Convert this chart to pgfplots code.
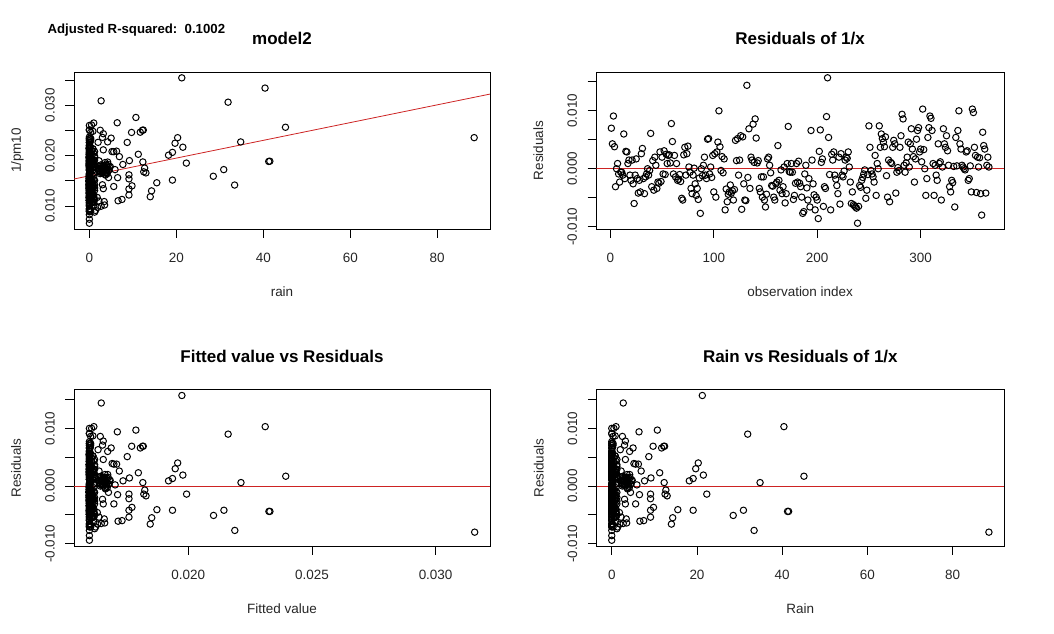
\documentclass[border=0pt]{standalone}
\usepackage{fontspec}
\setmainfont{Liberation Sans}
\usepackage{pgfplots}
\usepackage{pgfplotstable}
\pgfplotsset{compat=1.18}
\definecolor{rline}{RGB}{205,35,35}

% idx = observation index, rain, fit = fitted 1/pm10, res = residual, inv = 1/pm10
\pgfplotstableread{
idx rain fit res inv
1 0 0.01600 0.0070 0.02300
2 0.5 0.01609 0.0043 0.02039
3 0 0.01600 0.0091 0.02510
4 5.6 0.01699 0.0038 0.02079
5 5.6 0.01699 -0.0031 0.01389
6 0 0.01600 0.0000 0.01600
7 0.3 0.01605 0.0009 0.01695
8 0 0.01600 -0.0009 0.01510
9 1.0 0.01618 -0.0023 0.01388
10 0 0.01600 -0.0006 0.01540
11 0 0.01600 -0.0006 0.01540
12 4.4 0.01677 -0.0011 0.01567
13 4.2 0.01674 0.0060 0.02274
14 0 0.01600 -0.0017 0.01430
15 19.7 0.01947 0.0030 0.02247
16 0.8 0.01614 0.0029 0.01904
17 7.7 0.01736 0.0009 0.01826
18 2.8 0.01649 0.0015 0.01799
19 0 0.01600 -0.0011 0.01490
20 0.2 0.01604 -0.0020 0.01404
21 3.3 0.01658 0.0015 0.01808
22 0 0.01600 -0.0026 0.01340
23 7.5 0.01732 -0.0060 0.01132
24 0 0.01600 -0.0011 0.01490
25 1.2 0.01621 0.0017 0.01791
26 0 0.01600 -0.0017 0.01430
27 9.1 0.01760 -0.0042 0.01340
28 0 0.01600 -0.0020 0.01400
29 0.5 0.01609 -0.0040 0.01209
30 6.9 0.01721 0.0026 0.01981
31 0 0.01600 0.0035 0.01950
32 0 0.01600 -0.0017 0.01430
33 0.3 0.01605 -0.0043 0.01175
34 0 0.01600 -0.0014 0.01460
35 1.0 0.01618 -0.0009 0.01528
36 2.5 0.01644 0.0000 0.01644
37 0 0.01600 -0.0011 0.01490
38 3.6 0.01663 -0.0003 0.01633
39 0 0.01600 0.0061 0.02210
40 0.8 0.01614 -0.0031 0.01304
41 9.2 0.01762 0.0014 0.01902
42 9.8 0.01772 -0.0037 0.01402
43 4.2 0.01674 0.0020 0.01874
44 12.3 0.01816 0.0006 0.01876
45 0 0.01600 -0.0034 0.01260
46 0.2 0.01604 -0.0023 0.01374
47 0 0.01600 -0.0025 0.01350
48 1.2 0.01621 0.0029 0.01911
49 9.1 0.01760 -0.0022 0.01540
50 0 0.01600 0.0020 0.01800
51 0 0.01600 -0.0009 0.01510
52 0.5 0.01609 0.0031 0.01919
53 0 0.01600 -0.0010 0.01500
54 0 0.01600 0.0025 0.01850
55 3.0 0.01653 0.0009 0.01743
56 11.25 0.01798 0.0023 0.02028
57 0.3 0.01605 0.0024 0.01845
58 4.8 0.01684 0.0010 0.01784
59 3.2 0.01656 0.0078 0.02436
60 0 0.01600 0.0047 0.02070
61 0 0.01600 -0.0009 0.01510
62 1.0 0.01618 0.0023 0.01848
63 12.5 0.01820 -0.0014 0.01680
64 2.4 0.01642 0.0009 0.01732
65 0 0.01600 -0.0020 0.01400
66 0.8 0.01614 -0.0018 0.01434
67 0 0.01600 -0.0010 0.01500
68 0 0.01600 -0.0022 0.01380
69 0.2 0.01604 -0.0051 0.01094
70 9.1 0.01760 -0.0054 0.01220
71 0 0.01600 0.0024 0.01840
72 0 0.01600 0.0037 0.01970
73 1.2 0.01621 -0.0011 0.01511
74 0 0.01600 0.0026 0.01860
75 5.2 0.01692 0.0039 0.02082
76 3.8 0.01667 0.0003 0.01697
77 0 0.01600 -0.0006 0.01540
78 0.5 0.01609 -0.0034 0.01269
79 0 0.01600 -0.0043 0.01170
80 0 0.01600 -0.0011 0.01490
81 2.9 0.01651 0.0001 0.01661
82 0 0.01600 -0.0026 0.01340
83 0.3 0.01605 -0.0046 0.01145
84 0 0.01600 -0.0034 0.01260
85 1.0 0.01618 -0.0053 0.01088
86 0 0.01600 -0.0016 0.01440
87 33.4 0.02188 -0.0077 0.01418
88 4.0 0.01670 0.0000 0.01670
89 0 0.01600 -0.0012 0.01480
90 3.3 0.01658 0.0006 0.01718
91 3.6 0.01663 0.0020 0.01863
92 0 0.01600 -0.0011 0.01490
93 13.0 0.01829 -0.0017 0.01659
94 0 0.01600 0.0051 0.02110
95 0.8 0.01614 0.0052 0.02134
96 0 0.01600 -0.0009 0.01510
97 2.6 0.01646 0.0003 0.01676
98 6.5 0.01714 -0.0015 0.01564
99 0 0.01600 0.0023 0.01830
100 0.2 0.01604 -0.0040 0.01204
101 2.2 0.01639 0.0026 0.01899
102 0 0.01600 -0.0049 0.01110
103 0 0.01600 0.0029 0.01890
104 1.2 0.01621 0.0046 0.02081
105 0 0.01600 0.0100 0.02600
106 0 0.01600 0.0038 0.01980
107 4.1 0.01672 -0.0003 0.01642
108 0.5 0.01609 0.0021 0.01819
109 12.7 0.01824 -0.0007 0.01754
110 0 0.01600 0.0017 0.01770
111 1.4 0.01625 -0.0071 0.00915
112 0 0.01600 -0.0035 0.01250
113 3.4 0.01660 -0.0057 0.01090
114 41.5 0.02330 -0.0044 0.01890
115 0 0.01600 -0.0040 0.01200
116 0.3 0.01605 -0.0028 0.01325
117 19.1 0.01936 -0.0042 0.01516
118 0 0.01600 -0.0038 0.01220
119 1.0 0.01618 -0.0054 0.01078
120 0 0.01600 -0.0036 0.01240
121 0 0.01600 0.0049 0.02090
122 3.5 0.01662 0.0014 0.01802
123 0.8 0.01614 0.0052 0.02134
124 0 0.01600 -0.0011 0.01490
125 0 0.01600 0.0015 0.01750
126 0.2 0.01604 0.0057 0.02174
127 0 0.01600 -0.0070 0.00900
128 0 0.01600 0.0055 0.02150
129 1.2 0.01621 -0.0026 0.01361
130 0 0.01600 -0.0054 0.01060
131 14.3 0.01852 -0.0055 0.01302
132 2.7 0.01648 0.0144 0.03088
133 0 0.01600 -0.0015 0.01450
134 9.7 0.01771 0.0069 0.02461
135 0.5 0.01609 -0.0034 0.01269
136 0 0.01600 0.0020 0.01800
137 4.3 0.01676 0.0015 0.01826
138 0 0.01600 0.0077 0.02370
139 2.7 0.01648 0.0011 0.01758
140 2.5 0.01644 0.0086 0.02504
141 0 0.01600 0.0053 0.02130
142 0.3 0.01605 0.0010 0.01705
143 3.9 0.01669 0.0014 0.01809
144 0 0.01600 -0.0034 0.01260
145 1.0 0.01618 -0.0040 0.01218
146 9.1 0.01760 -0.0014 0.01620
147 0 0.01600 -0.0049 0.01110
148 0 0.01600 -0.0014 0.01460
149 0.8 0.01614 -0.0054 0.01074
150 0 0.01600 -0.0066 0.00940
151 41.25 0.02326 -0.0044 0.01886
152 45.1 0.02394 0.0017 0.02564
153 0 0.01600 0.0020 0.01800
154 34.8 0.02213 0.0006 0.02273
155 0.2 0.01604 -0.0007 0.01534
156 0 0.01600 -0.0029 0.01310
157 0 0.01600 -0.0030 0.01300
158 1.2 0.01621 -0.0049 0.01131
159 2.2 0.01639 -0.0054 0.01099
160 0 0.01600 -0.0026 0.01340
161 3.0 0.01653 -0.0023 0.01423
162 20.3 0.01957 0.0040 0.02357
163 0 0.01600 -0.0020 0.01400
164 0.5 0.01609 -0.0037 0.01239
165 0 0.01600 -0.0002 0.01580
166 0 0.01600 -0.0043 0.01170
167 3.2 0.01656 -0.0031 0.01346
168 3.1 0.01655 0.0003 0.01685
169 0 0.01600 -0.0059 0.01010
170 1.0 0.01618 -0.0043 0.01188
171 18.2 0.01920 0.0009 0.02010
172 0 0.01600 0.0073 0.02330
173 3.7 0.01665 -0.0005 0.01615
174 0.3 0.01605 -0.0006 0.01545
175 4.6 0.01681 0.0009 0.01771
176 0 0.01600 -0.0006 0.01540
177 0 0.01600 -0.0053 0.01070
178 1.8 0.01632 -0.0046 0.01172
179 0.8 0.01614 -0.0025 0.01364
180 3.4 0.01660 0.0009 0.01750
181 0 0.01600 -0.0023 0.01370
182 19.1 0.01936 0.0013 0.02066
183 0 0.01600 -0.0025 0.01350
184 0.2 0.01604 -0.0031 0.01294
185 0 0.01600 -0.0049 0.01110
186 0 0.01600 -0.0077 0.00830
187 1.2 0.01621 -0.0074 0.00881
188 0 0.01600 -0.0009 0.01510
189 2.2 0.01639 0.0006 0.01699
190 0 0.01600 -0.0033 0.01270
191 0.5 0.01609 -0.0054 0.01069
192 0 0.01600 -0.0017 0.01430
193 14.0 0.01846 -0.0066 0.01186
194 0 0.01600 0.0066 0.02260
195 1.0 0.01618 0.0015 0.01768
196 0 0.01600 -0.0026 0.01340
197 0 0.01600 -0.0045 0.01150
198 0.3 0.01605 -0.0071 0.00895
199 0 0.01600 -0.0049 0.01110
200 0.8 0.01614 -0.0054 0.01074
201 0 0.01600 -0.0086 0.00740
202 0 0.01600 0.0030 0.01900
203 0.2 0.01604 0.0067 0.02274
204 0 0.01600 0.0011 0.01710
205 2.6 0.01646 0.0017 0.01816
206 0 0.01600 -0.0065 0.00950
207 1.2 0.01621 -0.0031 0.01311
208 0 0.01600 -0.0034 0.01260
209 31.9 0.02161 0.0090 0.03061
210 21.25 0.01974 0.0157 0.03544
211 0 0.01600 0.0054 0.02140
212 0.5 0.01609 -0.0010 0.01509
213 0 0.01600 -0.0071 0.00890
214 0 0.01600 0.0025 0.01850
215 3.9 0.01669 0.0015 0.01819
216 1.0 0.01618 0.0029 0.01908
217 0 0.01600 -0.0011 0.01490
218 0 0.01600 -0.0018 0.01420
219 0.3 0.01605 -0.0029 0.01315
220 0 0.01600 -0.0043 0.01170
221 0.8 0.01614 0.0020 0.01814
222 6.6 0.01716 -0.0061 0.01106
223 0 0.01600 0.0026 0.01860
224 0 0.01600 -0.0011 0.01490
225 0.2 0.01604 -0.0014 0.01464
226 0 0.01600 -0.0004 0.01560
227 3.1 0.01655 0.0015 0.01805
228 1.2 0.01621 0.0020 0.01821
229 0 0.01600 0.0018 0.01780
230 0 0.01600 0.0029 0.01890
231 4.4 0.01677 0.0003 0.01707
232 0.5 0.01609 -0.0023 0.01379
233 0 0.01600 -0.0060 0.01000
234 0 0.01600 -0.0040 0.01200
235 1.0 0.01618 -0.0062 0.00998
236 3.5 0.01662 -0.0064 0.01022
237 1.9 0.01633 -0.0066 0.00973
238 0 0.01600 -0.0068 0.00920
239 0 0.01600 -0.0094 0.00660
240 2.7 0.01648 -0.0065 0.00998
241 0 0.01600 -0.0029 0.01310
242 0.3 0.01605 -0.0032 0.01285
243 0 0.01600 -0.0020 0.01400
244 0.8 0.01614 -0.0015 0.01464
245 0 0.01600 -0.0009 0.01510
246 0 0.01600 -0.0002 0.01580
247 28.5 0.02102 -0.0051 0.01592
248 0.2 0.01604 -0.0037 0.01234
249 0 0.01600 -0.0010 0.01500
250 0 0.01600 0.0074 0.02340
251 1.2 0.01621 0.0037 0.01991
252 0 0.01600 -0.0003 0.01570
253 0.5 0.01609 -0.0009 0.01519
254 22.3 0.01993 -0.0014 0.01853
255 0 0.01600 -0.0023 0.01370
256 0 0.01600 0.0023 0.01830
257 1.0 0.01618 -0.0046 0.01158
258 2.8 0.01649 0.0009 0.01739
259 0 0.01600 0.0000 0.01600
260 0.3 0.01605 0.0074 0.02345
261 0 0.01600 0.0037 0.01970
262 0 0.01600 0.0060 0.02200
263 0.8 0.01614 0.0052 0.02134
264 0 0.01600 0.0046 0.02060
265 6.25 0.01710 0.0038 0.02090
266 0 0.01600 0.0055 0.02150
267 0.2 0.01604 -0.0012 0.01484
268 0 0.01600 -0.0049 0.01110
269 1.2 0.01621 0.0015 0.01771
270 0 0.01600 -0.0057 0.01030
271 3.6 0.01663 0.0011 0.01773
272 3.4 0.01660 0.0009 0.01750
273 0 0.01600 0.0037 0.01970
274 0.5 0.01609 0.0049 0.02099
275 0 0.01600 0.0043 0.02030
276 30.9 0.02144 -0.0042 0.01724
277 0 0.01600 -0.0006 0.01540
278 5.9 0.01704 0.0002 0.01724
279 1.0 0.01618 -0.0003 0.01588
280 0 0.01600 0.0037 0.01970
281 0 0.01600 0.0057 0.02170
282 6.4 0.01713 0.0094 0.02653
283 0.3 0.01605 0.0086 0.02465
284 4.1 0.01672 0.0006 0.01732
285 0 0.01600 -0.0006 0.01540
286 0.8 0.01614 0.0010 0.01714
287 0 0.01600 0.0020 0.01800
288 3.2 0.01656 0.0046 0.02116
289 2.5 0.01644 0.0003 0.01674
290 0 0.01600 0.0043 0.02030
291 12.2 0.01815 0.0069 0.02505
292 0.2 0.01604 0.0034 0.01944
293 0 0.01600 0.0021 0.01810
294 0 0.01600 -0.0023 0.01370
295 1.2 0.01621 0.0017 0.01791
296 8.7 0.01753 0.0051 0.02263
297 11.7 0.01806 0.0066 0.02466
298 3.0 0.01653 0.0071 0.02363
299 0 0.01600 0.0029 0.01890
300 0.5 0.01609 0.0034 0.01949
301 0 0.01600 0.0012 0.01720
302 40.4 0.02311 0.0103 0.03341
303 0 0.01600 0.0033 0.01930
304 3.2 0.01656 0.0000 0.01656
305 1.0 0.01618 -0.0046 0.01158
306 0 0.01600 -0.0017 0.01430
307 0 0.01600 0.0054 0.02140
308 0.3 0.01605 0.0071 0.02315
309 0 0.01600 0.0091 0.02510
310 0.8 0.01614 0.0087 0.02484
311 5.0 0.01688 0.0066 0.02348
312 2.9 0.01651 0.0009 0.01741
313 0 0.01600 -0.0046 0.01140
314 0.2 0.01604 0.0006 0.01664
315 0 0.01600 -0.0011 0.01490
316 1.2 0.01621 -0.0020 0.01421
317 0 0.01600 0.0043 0.02030
318 3.7 0.01665 0.0009 0.01755
319 0 0.01600 0.0012 0.01720
320 0.5 0.01609 -0.0054 0.01069
321 0 0.01600 0.0003 0.01630
322 12.4 0.01818 0.0069 0.02508
323 1.0 0.01618 0.0043 0.02048
324 0 0.01600 0.0037 0.01970
325 0 0.01600 0.0057 0.02170
326 0.3 0.01605 0.0031 0.01915
327 4.0 0.01670 0.0006 0.01730
328 0 0.01600 -0.0031 0.01290
329 0.8 0.01614 -0.0040 0.01214
330 0 0.01600 -0.0020 0.01400
331 0 0.01600 -0.0024 0.01360
332 4.5 0.01679 0.0004 0.01719
333 0.2 0.01604 -0.0066 0.00944
334 0 0.01600 0.0054 0.02140
335 1.2 0.01621 0.0005 0.01671
336 0 0.01600 0.0066 0.02260
337 0.5 0.01609 0.0100 0.02609
338 0 0.01600 0.0043 0.02030
339 0 0.01600 0.0034 0.01940
340 2.4 0.01642 0.0006 0.01702
341 1.0 0.01618 0.0003 0.01648
342 0 0.01600 0.0000 0.01600
343 0 0.01600 -0.0002 0.01580
344 0.3 0.01605 0.0029 0.01895
345 0 0.01600 0.0031 0.01910
346 0.8 0.01614 -0.0020 0.01414
347 0 0.01600 -0.0017 0.01430
348 0 0.01600 0.0005 0.01650
349 0.2 0.01604 -0.0040 0.01204
350 1.0 0.01618 0.0103 0.02648
351 10.7 0.01788 0.0097 0.02758
352 0 0.01600 0.0037 0.01970
353 0 0.01600 0.0023 0.01830
354 15.5 0.01873 -0.0041 0.01463
355 0.5 0.01609 0.0020 0.01809
356 3.0 0.01653 0.0003 0.01683
357 21.5 0.01978 0.0019 0.02168
358 0 0.01600 -0.0043 0.01170
359 88.5 0.03158 -0.0080 0.02358
360 2.0 0.01635 0.0063 0.02265
361 0 0.01600 0.0040 0.02000
362 1.2 0.01621 0.0034 0.01961
363 0 0.01600 -0.0042 0.01180
364 3.5 0.01662 0.0006 0.01722
365 0.3 0.01605 0.0020 0.01805
366 0 0.01600 0.0003 0.01630
}\obs

\pgfplotsset{
  rpanel/.style={
    scale only axis,
    anchor=south west,
    axis line style={line width=0.6pt, black},
    tick align=outside,
    xtick pos=left, ytick pos=left,
    major tick length=6.5pt,
    tick style={line width=0.6pt, black},
    minor tick num=0,
    scaled ticks=false,
    every tick label/.append style={font=\fontsize{10.1}{12}\selectfont, text=black!85},
    xticklabel style={anchor=base, yshift=-18.85pt},
    yticklabel style={xshift=-8.1pt, rotate=90, anchor=base},
    every axis title/.style={at={(axis description cs:0.5,1)}, anchor=base, yshift=20.8pt, font=\bfseries\fontsize{12.75}{15}\selectfont},
    every axis x label/.style={at={(axis description cs:0.5,0)}, anchor=base, yshift=-50.5pt, font=\fontsize{10.1}{12}\selectfont, text=black!85},
    every axis y label/.style={at={(axis description cs:0,0.5)}, xshift=-39.8pt, rotate=90, anchor=base, font=\fontsize{10.1}{12}\selectfont, text=black!85},
  },
  pts/.style={only marks, mark=o, mark size=2.4pt, mark options={line width=0.75pt, black}},
  resy/.style={ymin=-0.0104, ymax=0.0167,
    ytick={-0.010,-0.005,0,0.005,0.010,0.015},
    yticklabels={-0.010,,0.000,,0.010,}},
}

\begin{document}
\begin{tikzpicture}
\path (0,0) rectangle (790.5pt,-475.5pt);
\node[anchor=base west, font=\bfseries\fontsize{9.9}{12}\selectfont, inner sep=0pt] at (35.5pt,-25.1pt) {Adjusted R-squared:\ \ 0.1002};

% Panel 1
\begin{axis}[rpanel, at={(55.5pt,-171.75pt)}, width=312pt, height=117.75pt,
  xmin=-3.54, xmax=92.14, ymin=0.00546, ymax=0.0366,
  xtick={0,20,40,60,80}, xticklabels={0,20,40,60,80},
  ytick={0.010,0.015,0.020,0.025,0.030,0.035},
  yticklabels={0.010,,0.020,,0.030,},
  title={model2}, xlabel={rain}, ylabel={1/pm10}]
\addplot[pts] table[x=rain, y=inv] {\obs};
\addplot[rline, line width=0.6pt] coordinates {(-3.54,0.01538) (92.14,0.03222)};
\end{axis}

% Panel 2
\begin{axis}[rpanel, resy, at={(447.2pt,-171.75pt)}, width=305.8pt, height=117.75pt,
  xmin=-13.6, xmax=380.6,
  xtick={0,100,200,300}, xticklabels={0,100,200,300},
  title={Residuals of 1/x}, xlabel={observation index}, ylabel={Residuals}]
\addplot[pts] table[x=idx, y=res] {\obs};
\addplot[rline, line width=0.6pt] coordinates {(-13.6,0) (380.6,0)};
\end{axis}

% Panel 3
\begin{axis}[rpanel, resy, at={(55.5pt,-409.5pt)}, width=312pt, height=117.2pt,
  xmin=0.015377, xmax=0.0322,
  xtick={0.020,0.025,0.030}, xticklabels={0.020,0.025,0.030},
  title={Fitted value vs Residuals}, xlabel={Fitted value}, ylabel={Residuals}]
\addplot[pts] table[x=fit, y=res] {\obs};
\addplot[rline, line width=0.6pt] coordinates {(0.015377,0) (0.0322,0)};
\end{axis}

% Panel 4
\begin{axis}[rpanel, resy, at={(447.5pt,-409.5pt)}, width=305.5pt, height=117.2pt,
  xmin=-3.54, xmax=92.04,
  xtick={0,20,40,60,80}, xticklabels={0,20,40,60,80},
  title={Rain vs Residuals of 1/x}, xlabel={Rain}, ylabel={Residuals}]
\addplot[pts] table[x=rain, y=res] {\obs};
\addplot[rline, line width=0.6pt] coordinates {(-3.54,0) (92.04,0)};
\end{axis}
\end{tikzpicture}
\end{document}
